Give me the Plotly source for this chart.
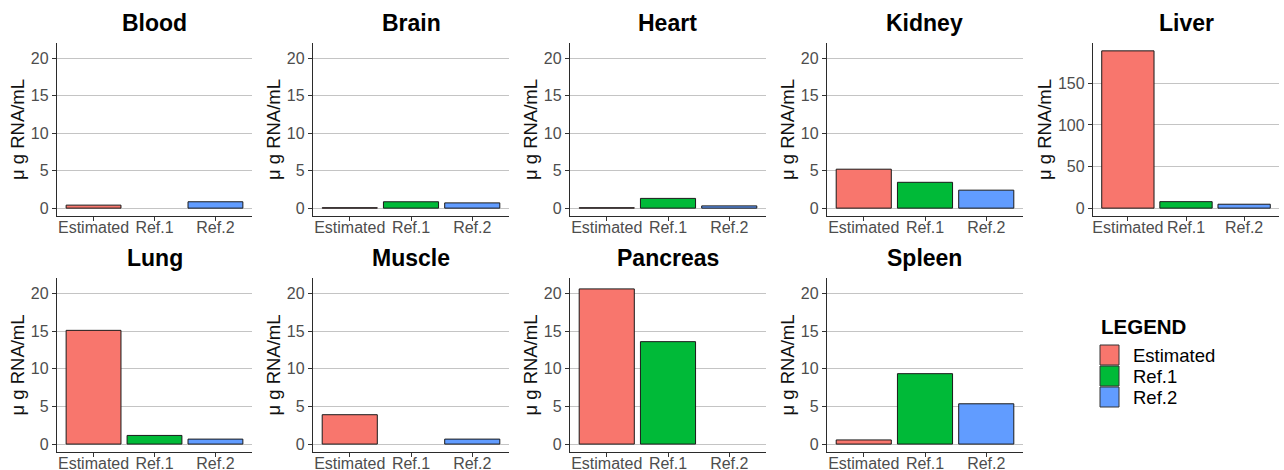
import plotly.graph_objects as go

W, H = 1284, 470

categories = ["Estimated", "Ref.1", "Ref.2"]
tissues = ["Blood", "Brain", "Heart", "Kidney", "Liver",
           "Lung", "Muscle", "Pancreas", "Spleen"]

estimated = [0.4, 0.05, 0.05, 5.2, 189.0, 15.1, 3.9, 20.6, 0.55]
ref1 = [None, 0.85, 1.3, 3.45, 7.8, 1.15, None, 13.6, 9.35]
ref2 = [0.85, 0.7, 0.3, 2.4, 4.7, 0.66, 0.66, None, 5.35]

colors = ["#F8766D", "#00BA38", "#619CFF"]
y_title = "μ g RNA/mL"

panel_px = [
    (57, 252, 43, 216), (313, 509, 43, 216), (570, 766, 43, 216),
    (827, 1023, 43, 216), (1093, 1279, 43, 216),
    (57, 252, 278, 452), (313, 509, 278, 452), (570, 766, 278, 452),
    (827, 1023, 278, 452),
]

FONT = "Liberation Sans, Arial, sans-serif"
fig = go.Figure()
annotations = []
layout_axes = {}

for i, t in enumerate(tissues):
    vals = [estimated[i], ref1[i], ref2[i]]
    n = i + 1
    xa = "x" if n == 1 else f"x{n}"
    ya = "y" if n == 1 else f"y{n}"
    fig.add_trace(go.Bar(
        x=categories, y=vals, xaxis=xa, yaxis=ya,
        marker=dict(color=colors, line=dict(color="#1a1a1a", width=1)),
        width=0.9, showlegend=False, hoverinfo="x+y",
    ))
    l, r, tp, b = panel_px[i]
    xd = [l / W, r / W]
    yd = [1 - b / H, 1 - tp / H]
    vmax = max(v for v in vals if v is not None)
    if t == "Liver":
        top = vmax
        dtick = 50
    else:
        top = 21.0
        dtick = 5
    yr = [-0.05 * top, top * 1.05]
    layout_axes[f"xaxis{'' if n == 1 else n}"] = dict(
        domain=xd, anchor=ya, type="category", automargin=False,
        categoryorder="array", categoryarray=categories,
        range=[-0.6, 2.6], showline=True, linecolor="#2b2b2b", linewidth=1.3,
        ticks="outside", ticklen=4, tickcolor="#333333", tickwidth=1,
        ticklabelstandoff=-7,
        tickfont=dict(family=FONT, size=16, color="#4d4d4d"),
        showgrid=False, zeroline=False, fixedrange=True,
    )
    layout_axes[f"yaxis{'' if n == 1 else n}"] = dict(
        domain=yd, anchor=xa, range=yr, dtick=dtick, tick0=0, automargin=False,
        showline=True, linecolor="#2b2b2b", linewidth=1.3,
        ticks="outside", ticklen=4, tickcolor="#333333", tickwidth=1,
        tickfont=dict(family=FONT, size=16, color="#4d4d4d"),
        showgrid=True, gridcolor="#c4c4c4", gridwidth=1, zeroline=False,
        title=dict(text=y_title, font=dict(family=FONT, size=18.5, color="#111111"),
                   standoff=1),
        fixedrange=True,
    )
    annotations.append(dict(
        text=f"<b>{t}</b>", x=(xd[0] + xd[1]) / 2, y=1 - (tp - 20) / H,
        xref="paper", yref="paper", showarrow=False,
        font=dict(family=FONT, size=23, color="#000000"),
        xanchor="center", yanchor="middle",
    ))

shapes = []
annotations.append(dict(
    text="<b>LEGEND</b>", x=1099 / W, y=1 - 326 / H, xref="paper", yref="paper",
    showarrow=False, xanchor="left", yanchor="middle",
    font=dict(family=FONT, size=20.5, color="#000000"),
))
for k, (cat, col) in enumerate(zip(categories, colors)):
    y0 = 345 + k * 21
    shapes.append(dict(
        type="rect", xref="paper", yref="paper",
        x0=1100 / W, x1=1119 / W, y0=1 - (y0 + 20) / H, y1=1 - y0 / H,
        fillcolor=col, line=dict(color="#333333", width=1),
    ))
    annotations.append(dict(
        text=cat, x=1131 / W, y=1 - (y0 + 10) / H, xref="paper", yref="paper",
        showarrow=False, xanchor="left", yanchor="middle",
        font=dict(family=FONT, size=18.5, color="#000000"),
    ))

fig.update_layout(
    width=W, height=H, margin=dict(l=0, r=0, t=0, b=0, autoexpand=False),
    paper_bgcolor="white", plot_bgcolor="white",
    bargap=0.1, annotations=annotations, shapes=shapes,
    font=dict(family=FONT), showlegend=False,
    **layout_axes,
)

fig.write_html(
    "out.html", config={"displayModeBar": False},
    post_script="document.body.style.margin='0';document.body.style.overflow='hidden';",
)
